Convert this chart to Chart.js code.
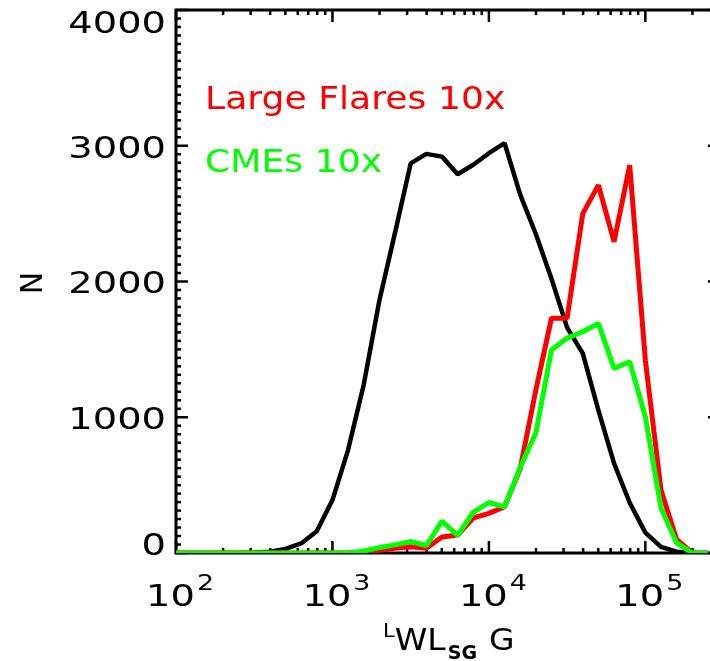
<!DOCTYPE html>
<html>
<head>
<meta charset="utf-8">
<script src="https://cdn.jsdelivr.net/npm/chart.js@4.4.1/dist/chart.umd.min.js"></script>
<style>
  html, body { margin: 0; padding: 0; background: #fff; overflow: hidden; }
  canvas { display: block; }
</style>
</head>
<body>
<canvas id="hist" width="740" height="661"></canvas>
<script>
// bin centres, 0.1 dex wide (10^2.0 ... 10^5.4)
const binCentres = [100, 126, 158, 200, 251, 316, 398, 501, 631, 794,
  1000, 1259, 1585, 1995, 2512, 3162, 3981, 5012, 6310, 7943,
  10000, 12589, 15849, 19953, 25119, 31623, 39811, 50119, 63096, 79433,
  100000, 125893, 158489, 199526, 251189];

// counts per bin
const allRegions = [0, 0, 0, 0, 0, 3, 10, 30, 70, 160,
  390, 760, 1240, 1860, 2360, 2870, 2940, 2920, 2790, 2860,
  2945, 3020, 2640, 2350, 2020, 1660, 1470, 1050, 660, 370,
  150, 45, 10, 0, 0];
const largeFlares = [0, 0, 0, 0, 0, 0, 0, 0, 0, 0,
  0, 0, 5, 20, 35, 46, 35, 118, 133, 258,
  292, 341, 620, 1200, 1730, 1730, 2500, 2710, 2292, 2857,
  1420, 464, 100, 0, 0];
const cmes = [0, 0, 0, 0, 0, 0, 0, 0, 0, 0,
  0, 0, 15, 40, 60, 85, 55, 235, 130, 300,
  372, 340, 630, 884, 1495, 1583, 1630, 1691, 1360, 1409,
  1004, 331, 74, 0, 0];

// axes
const yTicks = [0, 1000, 2000, 3000, 4000];
const xDecades = [100, 1000, 10000, 100000];
const xDecadeExp = ['2', '3', '4', '5'];

const FONT = '"DejaVu Sans"';

function toPoints(ys) {
    return ys.map((v, i) => ({ x: binCentres[i], y: v }));
}

// text with a horizontal stretch, y is the baseline
function drawText(ctx, str, x, y, size, sx, color, align, weight) {
    ctx.save();
    ctx.font = (weight || 'normal') + ' ' + size + 'px ' + FONT;
    ctx.fillStyle = color;
    ctx.textAlign = 'left';
    ctx.textBaseline = 'alphabetic';
    const w = ctx.measureText(str).width * sx;
    let left = x;
    if (align === 'right') left = x - w;
    else if (align === 'center') left = x - w / 2;
    ctx.translate(left, y);
    ctx.scale(sx, 1);
    ctx.fillText(str, 0, 0);
    ctx.restore();
    return w;
}

function textWidth(ctx, str, size, sx, weight) {
    ctx.save();
    ctx.font = (weight || 'normal') + ' ' + size + 'px ' + FONT;
    const w = ctx.measureText(str).width * sx;
    ctx.restore();
    return w;
}

function seg(ctx, x1, y1, x2, y2) {
    ctx.beginPath();
    ctx.moveTo(x1, y1);
    ctx.lineTo(x2, y2);
    ctx.stroke();
}

// box, inward ticks and all the labels
const idlFrame = {
    id: 'idlFrame',
    beforeDatasetsDraw(chart) {
        const { ctx, chartArea: a, scales: { x, y } } = chart;
        ctx.save();
        ctx.strokeStyle = '#000';
        ctx.lineCap = 'butt';
        ctx.lineWidth = 3;
        ctx.strokeRect(a.left, a.top, a.right - a.left, a.bottom - a.top);

        ctx.lineWidth = 2.5;
        // log ticks on bottom and top
        for (let d = x.min; d <= x.max; d *= 10) {
            for (let m = 1; m <= 9; m++) {
                const v = d * m;
                if (v > x.max) break;
                const px = x.getPixelForValue(v);
                const len = m === 1 ? 12 : 5;
                seg(ctx, px, a.bottom, px, a.bottom - len);
                seg(ctx, px, a.top, px, a.top + len);
            }
        }
        // linear ticks left and right
        const minorStep = 1000 / 16;
        for (let v = y.min; v <= y.max + 0.01; v += minorStep) {
            const py = y.getPixelForValue(v);
            const major = Math.abs(v / 1000 - Math.round(v / 1000)) < 1e-6;
            const len = major ? 12 : 5;
            seg(ctx, a.left, py, a.left + len, py);
            seg(ctx, a.right, py, a.right - len, py);
        }
        ctx.restore();
    },
    afterDraw(chart) {
        const { ctx, chartArea: a, scales: { x, y } } = chart;
        const size = 30, sx = 1.28, cap = 0.729 * size;

        // y tick labels
        yTicks.forEach(v => {
            let cy = y.getPixelForValue(v) + 1;
            cy = Math.max(a.top + 12, Math.min(a.bottom - 9, cy));
            drawText(ctx, String(v), 166, cy + cap / 2, size, sx, '#000', 'right');
        });

        // x tick labels: 10 with a raised exponent
        xDecades.forEach((v, i) => {
            const px = x.getPixelForValue(v);
            const wBase = textWidth(ctx, '10', size, sx);
            const wExp = textWidth(ctx, xDecadeExp[i], 21, sx);
            const left = px + 4 - (wBase + 2 + wExp) / 2;
            drawText(ctx, '10', left, 595 + cap / 2, size, sx, '#000', 'left');
            drawText(ctx, xDecadeExp[i], left + wBase + 2, 590, 21, sx, '#000', 'left');
        });

        // x title: superscript L, WL, subscript SG, G
        let cx = 383;
        cx += drawText(ctx, 'L', cx, 637, 20, 1.05, '#000', 'left');
        cx += drawText(ctx, 'WL', cx, 650, size, 1.1, '#000', 'left') + 2;
        cx += drawText(ctx, 'SG', cx, 659, 19, 1.0, '#000', 'left', 'bold');
        drawText(ctx, 'G', cx + 12, 650, size, 1.1, '#000', 'left');

        // y title, rotated
        ctx.save();
        ctx.translate(31 + cap / 2, 283);
        ctx.rotate(-Math.PI / 2);
        drawText(ctx, 'N', 0, 0, size, 1.0, '#000', 'center');
        ctx.restore();

        // in-plot labels
        drawText(ctx, 'Large Flares 10x', 205, 109, 32, 1.13, '#ff0000', 'left');
        drawText(ctx, 'CMEs 10x', 205, 172, 32, 1.13, '#00ff00', 'left');
    }
};

const ctx = document.getElementById('hist').getContext('2d');

new Chart(ctx, {
    type: 'line',
    data: {
        datasets: [
            { label: 'CMEs 10x', data: toPoints(cmes), borderColor: '#00ff00', borderWidth: 5 },
            { label: 'Large Flares 10x', data: toPoints(largeFlares), borderColor: '#ff0000', borderWidth: 5 },
            { label: 'All', data: toPoints(allRegions), borderColor: '#000000', borderWidth: 4.5 }
        ]
    },
    options: {
        responsive: false,
        animation: false,
        devicePixelRatio: 1,
        layout: { padding: { left: 176, top: 10, right: 20, bottom: 108 } },
        elements: {
            point: { radius: 0 },
            line: { tension: 0, fill: false, borderJoinStyle: 'bevel', borderCapStyle: 'butt' }
        },
        plugins: {
            legend: { display: false },
            tooltip: { enabled: false }
        },
        scales: {
            x: { type: 'logarithmic', min: 100, max: 300000, display: false },
            y: { type: 'linear', min: 0, max: 4000, display: false }
        }
    },
    plugins: [idlFrame]
});
</script>
</body>
</html>
